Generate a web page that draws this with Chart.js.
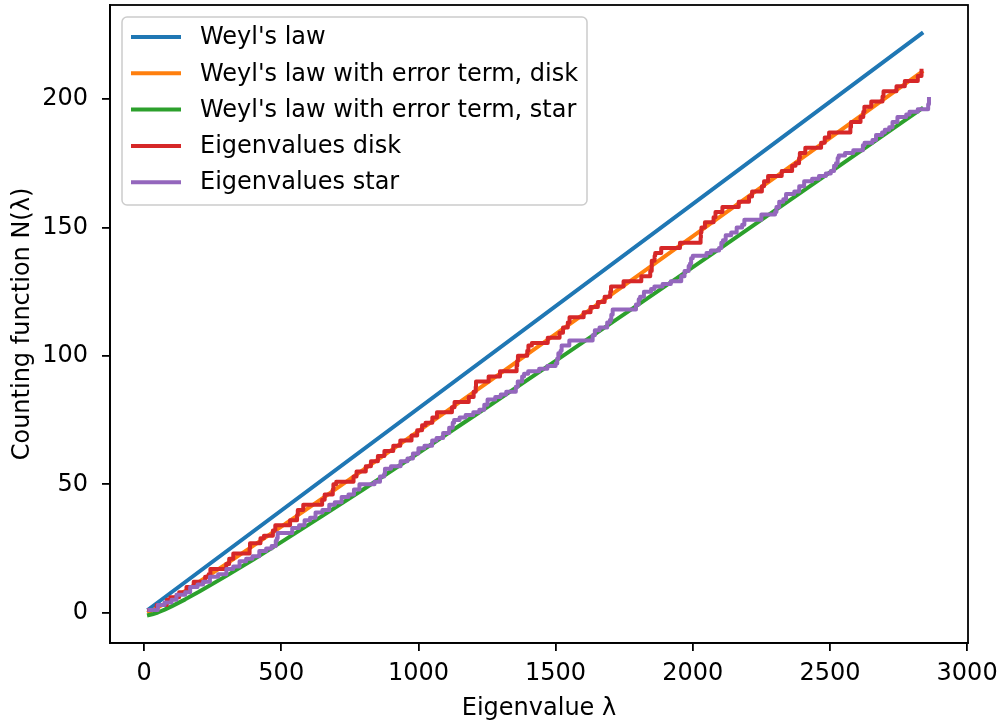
<!DOCTYPE html>
<html>
<head>
<meta charset="utf-8">
<script src="https://cdn.jsdelivr.net/npm/chart.js@4.4.1/dist/chart.umd.min.js"></script>
<style>
  html, body { margin: 0; padding: 0; background: #fff; }
  canvas { display: block; }
</style>
</head>
<body>
<canvas id="weylChart" width="1000" height="722"></canvas>
<script>
// tick values
var xTicks = [0, 500, 1000, 1500, 2000, 2500, 3000];
var yTicks = [0, 50, 100, 150, 200];

var seriesLabels = ["Weyl's law", "Weyl's law with error term, disk", "Weyl's law with error term, star", "Eigenvalues disk", "Eigenvalues star"];
var seriesColors = ['#1f77b4', '#ff7f0e', '#2ca02c', '#d62728', '#9467bd'];

// Weyl's law (straight line)
var weylLambda = [18, 2834];
var weylN = [1.43, 225.5];

// smooth curves with boundary term
var smoothLambda = [18, 30, 50, 75, 100, 150, 200, 300, 400, 500, 650, 800, 1000, 1250, 1500, 1800, 2100, 2450, 2834];
var diskWeylN = [0.24, 0.84, 1.98, 3.53, 5.14, 8.48, 11.93, 18.99, 26.19, 33.48, 44.54, 55.69, 70.66, 89.50, 108.44, 131.28, 154.19, 181.01, 210.51];
var starWeylN = [-0.91, -0.63, 0.08, 1.20, 2.45, 5.19, 8.12, 14.33, 20.81, 27.47, 37.68, 48.08, 62.16, 79.99, 98.03, 119.87, 141.87, 167.70, 196.20];

// eigenvalues, repeated where degenerate; counting function N = index + 1
var diskEigenvalues = [18.2, 46.1, 46.1, 82.9, 82.9, 95.7, 127.9, 127.9, 154.6, 154.6,
  180.9, 180.9, 222.6, 222.6, 235.3, 241.7, 241.7, 299.3, 299.3, 310.2, 310.2, 325.2, 325.2,
  384.6, 384.6, 386.1, 386.1, 424.2, 424.2, 436.8, 469.5, 469.5, 478.3, 478.3, 532.2, 532.2,
  557.7, 557.7, 560.3, 560.3, 580.2, 580.2, 649.0, 649.0, 658.3, 658.3, 687.8, 687.8,
  690.1, 690.1, 700.4, 763.5, 763.5, 774.4, 774.4, 808.1, 808.1, 826.9, 826.9, 852.3, 852.3,
  876.0, 876.0, 908.3, 908.3, 933.9, 933.9, 974.9, 974.9, 995.5, 995.5, 1013.3, 1013.3,
  1025.9, 1050.7, 1050.7, 1067.5, 1067.5, 1122.2, 1122.2, 1131.7, 1131.7, 1183.5, 1183.5,
  1201.3, 1201.3, 1208.8, 1208.8, 1209.9, 1209.9, 1255.9, 1255.9, 1297.3, 1297.3,
  1357.9, 1357.9, 1360.1, 1360.1, 1362.7, 1362.7, 1396.7, 1396.7, 1400.9, 1400.9, 1413.5,
  1471.4, 1471.4, 1514.5, 1514.5, 1527.1, 1527.1, 1544.5, 1544.5, 1550.8, 1550.8,
  1602.2, 1602.2, 1627.4, 1627.4, 1654.0, 1654.0, 1678.7, 1678.7, 1699.2, 1699.2,
  1702.0, 1702.0, 1747.7, 1747.7, 1812.4, 1812.4, 1845.0, 1845.0, 1850.4, 1850.4,
  1850.5, 1850.5, 1860.9, 1860.9, 1863.1, 1885.0, 1885.0, 1953.3, 1953.3, 2028.5, 2028.5,
  2029.6, 2029.6, 2031.6, 2031.6, 2044.3, 2044.3, 2075.8, 2075.8, 2082.8, 2082.8,
  2108.0, 2108.0, 2167.5, 2167.5, 2205.1, 2205.1, 2216.1, 2216.1, 2251.9, 2251.9,
  2259.8, 2259.8, 2274.5, 2274.5, 2324.1, 2324.1, 2362.1, 2362.1, 2374.7, 2387.5, 2387.5,
  2390.3, 2390.3, 2410.2, 2410.2, 2467.7, 2467.7, 2481.0, 2481.0, 2496.8, 2496.8,
  2574.5, 2574.5, 2576.8, 2576.8, 2611.5, 2611.5, 2621.6, 2621.6, 2625.4, 2625.4,
  2650.6, 2650.6, 2691.6, 2691.6, 2695.3, 2695.3, 2742.5, 2742.5, 2772.9, 2772.9,
  2820.2, 2820.2, 2833.8, 2833.8];

var starEigenvalues = [19, 50, 50, 75, 100, 118, 118, 150, 168, 168, 195, 215, 240, 240,
  270, 300, 300, 325, 348, 348, 372, 395, 420, 420, 445, 465, 480, 480, 484, 487, 487,
  540, 540, 565, 585, 585, 605, 625, 625, 650, 675, 675, 695, 720, 720, 745, 765, 765,
  785, 785, 840, 860, 860, 875, 878, 878, 900, 935, 935, 960, 980, 980, 1000, 1000, 1022,
  1050, 1050, 1066, 1090, 1090, 1112, 1112, 1125, 1125, 1130, 1150, 1172, 1200, 1222,
  1240, 1240, 1252, 1252, 1280, 1300, 1320, 1355, 1355, 1362, 1362, 1378, 1378, 1385,
  1400, 1440, 1470, 1500, 1506, 1506, 1510, 1510, 1518, 1522, 1522, 1550, 1550,
  1635, 1635, 1643, 1643, 1660, 1688, 1688, 1698, 1703, 1703, 1708, 1708,
  1793, 1793, 1803, 1803, 1808, 1822, 1822, 1848, 1860, 1890, 1920, 1958, 1958,
  1970, 1970, 1985, 1985, 1990, 1994, 1994, 2000, 2050, 2066, 2096, 2104, 2104, 2110,
  2120, 2120, 2140, 2160, 2160, 2180, 2188, 2188, 2250, 2250, 2300, 2305, 2305,
  2315, 2315, 2330, 2340, 2340, 2370, 2388, 2388, 2406, 2406, 2435, 2460, 2485, 2503,
  2515, 2515, 2522, 2528, 2528, 2532, 2555, 2585, 2620, 2620, 2626, 2655, 2668, 2668,
  2690, 2700, 2716, 2728, 2728, 2746, 2746, 2778, 2790, 2820, 2858, 2858, 2861, 2861];

var FONT = 'DejaVu Sans';
var FSIZE = 24;
var LW = 4;

function curve(xs, ys) {
	return xs.map(function(v, i){ return {x: v, y: ys[i]}; });
}
function staircase(eigs) {
	return eigs.map(function(v, i){ return {x: v, y: i + 1}; });
}

function lineSet(i, data, stepped) {
	return {
		label: seriesLabels[i],
		data: data,
		borderColor: seriesColors[i],
		backgroundColor: seriesColors[i],
		borderWidth: LW,
		pointRadius: 0,
		fill: false,
		stepped: stepped ? 'before' : false,
		borderJoinStyle: 'round',
		borderCapStyle: 'square',
		order: 4 - i
	};
}

// no extra room for edge labels: the plot box is fixed
function fixBox(width, height) {
	return function(s) {
		if (width) s.width = width;
		if (height) s.height = height;
		s.paddingLeft = 0; s.paddingRight = 0; s.paddingTop = 0; s.paddingBottom = 0;
	};
}

// top/right spines and the framed legend in the upper left
var framePlugin = {
	id: 'frame',
	afterDraw: function(chart) {
		var c = chart.ctx, a = chart.chartArea;
		c.save();
		c.strokeStyle = '#000';
		c.lineWidth = 1.8;
		c.strokeRect(a.left, a.top, a.right - a.left, a.bottom - a.top);

		var bx = 122, by = 17, bw = 465, bh = 188, r = 5;
		c.beginPath();
		c.moveTo(bx + r, by);
		c.lineTo(bx + bw - r, by);
		c.arcTo(bx + bw, by, bx + bw, by + r, r);
		c.lineTo(bx + bw, by + bh - r);
		c.arcTo(bx + bw, by + bh, bx + bw - r, by + bh, r);
		c.lineTo(bx + r, by + bh);
		c.arcTo(bx, by + bh, bx, by + bh - r, r);
		c.lineTo(bx, by + r);
		c.arcTo(bx, by, bx + r, by, r);
		c.closePath();
		c.fillStyle = 'rgba(255,255,255,0.8)';
		c.fill();
		c.strokeStyle = '#cccccc';
		c.lineWidth = 1.5;
		c.stroke();

		c.font = FSIZE + 'px "' + FONT + '"';
		c.textBaseline = 'middle';
		c.textAlign = 'left';
		for (var i = 0; i < seriesLabels.length; i++) {
			var ry = 37 + i * 36.3;
			c.strokeStyle = seriesColors[i];
			c.lineWidth = LW;
			c.lineCap = 'butt';
			c.beginPath();
			c.moveTo(131, ry);
			c.lineTo(181, ry);
			c.stroke();
			c.fillStyle = '#000';
			c.fillText(seriesLabels[i], 200, ry + 1);
		}
		c.restore();
	}
};

var tickFont = {family: FONT, size: FSIZE};

new Chart(document.getElementById('weylChart'), {
	type: 'line',
	data: {
		datasets: [
			lineSet(0, curve(weylLambda, weylN), false),
			lineSet(1, curve(smoothLambda, diskWeylN), false),
			lineSet(2, curve(smoothLambda, starWeylN), false),
			lineSet(3, staircase(diskEigenvalues), true),
			lineSet(4, staircase(starEigenvalues), true)
		]
	},
	options: {
		responsive: false,
		animation: false,
		layout: {padding: {left: 0, right: 32, top: 5, bottom: 0}},
		plugins: {legend: {display: false}, tooltip: {enabled: false}},
		elements: {line: {tension: 0}},
		scales: {
			x: {
				type: 'linear',
				min: -124.2,
				max: 3003.2,
				afterFit: fixBox(0, 79),
				afterBuildTicks: function(s){ s.ticks = xTicks.map(function(v){ return {value: v}; }); },
				grid: {drawOnChartArea: false, color: '#000', lineWidth: 1.8, tickLength: 8},
				border: {color: '#000', width: 1.8},
				ticks: {color: '#000', font: tickFont, padding: 8, maxRotation: 0, autoSkip: false,
					callback: function(v){ return String(v); }},
				title: {display: true, text: 'Eigenvalue λ', color: '#000', font: tickFont, padding: {top: 0, bottom: -1}}
			},
			y: {
				type: 'linear',
				min: -11.8,
				max: 236.6,
				afterFit: fixBox(110, 0),
				afterBuildTicks: function(s){ s.ticks = yTicks.map(function(v){ return {value: v}; }); },
				grid: {drawOnChartArea: false, color: '#000', lineWidth: 1.8, tickLength: 8},
				border: {color: '#000', width: 1.8},
				ticks: {color: '#000', font: tickFont, padding: 14, autoSkip: false,
					callback: function(v){ return String(v); }},
				title: {display: true, text: 'Counting function N(λ)', color: '#000', font: tickFont, padding: {top: 8, bottom: 0}}
			}
		}
	},
	plugins: [framePlugin]
});
</script>
</body>
</html>
